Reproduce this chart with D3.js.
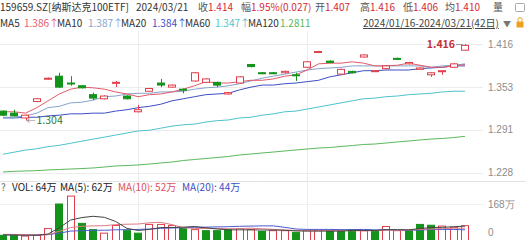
<!DOCTYPE html>
<html>
<head>
<meta charset="utf-8">
<script src="https://cdn.jsdelivr.net/npm/d3@7"></script>
<style>
  body { margin: 0; background: #fff; }
  svg { display: block; font-family: "Noto Sans CJK SC", "Noto Sans", sans-serif; }
</style>
</head>
<body>
<div class="chart"></div>
<script>
// trading days 2024/01/16 - 2024/03/21
var dates = ["01/16","01/17","01/18","01/19","01/22","01/23","01/24","01/25","01/26","01/29","01/30","01/31",
  "02/01","02/02","02/05","02/06","02/07","02/08","02/19","02/20","02/21","02/22","02/23","02/26","02/27","02/28","02/29",
  "03/01","03/04","03/05","03/06","03/07","03/08","03/11","03/12","03/13","03/14","03/15","03/18","03/19","03/20","03/21"];
var monthStarts = ["02/01", "03/01"];

var opens  = [1.318,1.315,1.308,1.332,1.365,1.369,1.359,1.355,1.342,1.336,1.359,1.340,1.317,1.347,1.359,1.353,1.350,1.362,1.360,1.360,1.343,
  1.359,1.386,1.374,1.374,1.374,1.371,1.382,1.404,1.391,1.372,1.376,1.397,1.376,1.380,1.395,1.387,1.379,1.371,1.376,1.382,1.407];
var closes = [1.312,1.311,1.312,1.336,1.366,1.353,1.358,1.352,1.337,1.340,1.360,1.336,1.320,1.351,1.356,1.356,1.349,1.374,1.365,1.356,1.345,
  1.368,1.383,1.373,1.373,1.376,1.370,1.390,1.405,1.389,1.379,1.374,1.400,1.377,1.384,1.394,1.389,1.381,1.374,1.377,1.387,1.414];
var highs  = [1.319,1.320,1.313,1.337,1.367,1.374,1.369,1.356,1.345,1.341,1.362,1.341,1.327,1.352,1.365,1.357,1.351,1.375,1.366,1.361,1.346,
  1.369,1.387,1.375,1.375,1.377,1.374,1.391,1.406,1.392,1.380,1.377,1.401,1.378,1.385,1.396,1.390,1.382,1.375,1.377,1.388,1.416];
var lows   = [1.311,1.310,1.304,1.331,1.364,1.352,1.355,1.351,1.334,1.335,1.353,1.335,1.316,1.346,1.353,1.352,1.344,1.361,1.359,1.353,1.342,
  1.358,1.382,1.372,1.372,1.373,1.362,1.381,1.403,1.388,1.371,1.373,1.396,1.375,1.379,1.393,1.386,1.378,1.368,1.371,1.381,1.406];
var prevClose = 1.316;

var ma5   = [1.317,1.317,1.315,1.323,1.333,1.343,1.350,1.353,1.352,1.350,1.346,1.343,1.339,1.342,1.343,1.346,1.350,1.355,1.361,1.359,1.359,
  1.361,1.363,1.363,1.365,1.369,1.371,1.378,1.387,1.388,1.388,1.390,1.388,1.384,1.384,1.385,1.388,1.385,1.382,1.382,1.384,1.386];
var ma10  = [1.309,1.309,1.311,1.315,1.323,1.325,1.330,1.331,1.334,1.339,1.340,1.343,1.344,1.344,1.346,1.346,1.347,1.350,1.352,1.353,1.355,
  1.358,1.362,1.366,1.369,1.372,1.375,1.378,1.380,1.381,1.382,1.384,1.384,1.384,1.384,1.384,1.384,1.384,1.382,1.384,1.385,1.387];
var ma20  = [1.308,1.308,1.309,1.309,1.311,1.312,1.314,1.314,1.315,1.315,1.318,1.320,1.323,1.325,1.328,1.333,1.336,1.339,1.342,1.343,1.344,
  1.349,1.353,1.356,1.356,1.358,1.359,1.361,1.363,1.368,1.371,1.374,1.377,1.377,1.378,1.378,1.378,1.380,1.381,1.382,1.384,1.384];
var ma60  = [1.255,1.258,1.261,1.263,1.266,1.268,1.271,1.274,1.277,1.280,1.283,1.286,1.289,1.290,1.293,1.296,1.298,1.299,1.302,1.304,1.305,
  1.308,1.309,1.312,1.314,1.317,1.318,1.321,1.324,1.327,1.330,1.333,1.336,1.337,1.339,1.340,1.342,1.343,1.344,1.346,1.347,1.347];
var ma120 = [1.229,1.230,1.2305,1.231,1.232,1.2327,1.2334,1.2341,1.2349,1.2363,1.2378,1.2385,1.2393,1.2407,1.2422,1.2436,1.2458,1.2473,1.2487,1.2502,1.2517,
  1.2539,1.2553,1.2568,1.2582,1.2597,1.2612,1.2626,1.2641,1.2648,1.2663,1.2677,1.2692,1.2699,1.2714,1.2729,1.2743,1.2758,1.2772,1.278,1.2794,1.2811];

// volume in 万
var volumes = [18,18,14,18,50,168,206,75,45,28,65,40,28,70,70,65,50,45,40,40,45,50,45,36,40,40,32,40,40,40,40,45,40,40,60,40,40,70,66,62,56,64];
var volMa5  = [20,19,18,18,24,54,91,103,109,104,84,51,41,46,55,55,57,60,54,48,44,44,44,43,43,42,39,38,38,38,38,41,41,41,45,45,44,50,55,56,59,62];
var volMa10 = [22,22,21,20,21,37,55,61,63,64,69,71,72,78,80,69,54,51,50,51,49,50,52,49,46,43,41,41,41,41,40,40,39,40,42,42,43,46,48,50,52,52];
var volMa20 = [20,20,20,19,21,28,38,40,42,42,44,45,46,48,51,53,54,56,57,58,59,61,62,63,63,56,48,46,46,46,45,45,46,44,44,42,42,43,45,46,46,44];

var priceTicks = [1.416, 1.353, 1.291, 1.228];
var volTicks = [168, 0];

var maNames  = ["MA5", "MA10", "MA20", "MA60", "MA120"];
var maValues = ["1.386↑", "1.387↑", "1.384↑", "1.347↑", "1.2811"];
var volHeader = ["VOL: 64万", "MA(5): 62万", "MA(10): 52万", "MA(20): 44万"];
var quoteLabels = ["收", "幅", "开", "高", "低", "均"];
var quoteValues = ["1.414", "1.95%(0.027)", "1.407", "1.416", "1.406", "1.410"];

var red = "#e0404c", green = "#14931a", textRed = "#d42a38";
var maColors = ["#e2596a", "#86a3c9", "#3c4fc4", "#4ec3cc", "#5cb85c"];

var svg = d3.select(".chart").append("svg").attr("width", 526).attr("height", 240);

var x = d3.scalePoint().domain(dates).range([3, 465]);
var bw = x.step() * 0.72;
var y = d3.scaleLinear().domain([1.228, 1.416]).range([172.7, 44]);
var yv = d3.scaleLinear().domain([0, 168]).range([239, 204]);

// grid
svg.append("g").selectAll("line").data(priceTicks).enter().append("line")
  .attr("x1", 0).attr("x2", 483).attr("y1", d => Math.round(y(d)) + 0.5).attr("y2", d => Math.round(y(d)) + 0.5)
  .attr("stroke", "#ececec");
svg.append("line").attr("x1", 0).attr("x2", 526).attr("y1", 181.5).attr("y2", 181.5).attr("stroke", "#e2e2e2");
svg.append("line").attr("x1", 0).attr("x2", 483).attr("y1", Math.round(yv(168)) + 0.5).attr("y2", Math.round(yv(168)) + 0.5)
  .attr("stroke", "#f0f0f0");
svg.append("g").selectAll("line").data(monthStarts).enter().append("line")
  .attr("x1", d => Math.round(x(d)) + 0.5).attr("x2", d => Math.round(x(d)) + 0.5)
  .attr("y1", 31).attr("y2", 240).attr("stroke", "#ececec");

// right axes
var priceAxis = d3.axisRight(y).tickValues(priceTicks).tickSize(0).tickFormat(d3.format(".3f"));
var pa = svg.append("g").attr("transform", "translate(487,0)").call(priceAxis);
var volAxis = d3.axisRight(yv).tickValues(volTicks).tickSize(0).tickFormat(d => d === 0 ? "0" : d + "万");
var va = svg.append("g").attr("transform", "translate(487,0)").call(volAxis);
[pa, va].forEach(function(g) {
  g.select(".domain").remove();
  g.selectAll("text").attr("x", 1).attr("fill", "#8c8c8c").style("font-size", "10px").style("font-family", "inherit");
});
va.selectAll(".tick").filter(d => d === 0).select("text").attr("dy", "-0.35em");

// MA lines
var maSeries = [ma120, ma60, ma20, ma10, ma5];
var maSeriesColors = [maColors[4], maColors[3], maColors[2], maColors[1], maColors[0]];
maSeries.forEach(function(s, k) {
  svg.append("path").datum(s)
    .attr("d", d3.line().x((d, i) => x(dates[i])).y(d => y(d)))
    .attr("fill", "none").attr("stroke", maSeriesColors[k]).attr("stroke-width", 1);
});

// candles
var idx = d3.range(dates.length);
var isUp = i => closes[i] >= opens[i];
var candle = svg.append("g").selectAll("g").data(idx).enter().append("g");
candle.append("line")
  .attr("x1", i => Math.round(x(dates[i])) + 0.5).attr("x2", i => Math.round(x(dates[i])) + 0.5)
  .attr("y1", i => y(highs[i])).attr("y2", i => y(lows[i]))
  .attr("stroke", i => isUp(i) ? red : green);
candle.append("rect")
  .attr("x", i => Math.round(x(dates[i]) - bw / 2) + 0.5)
  .attr("width", Math.round(bw) - 1)
  .attr("y", i => y(Math.max(opens[i], closes[i])))
  .attr("height", i => Math.max(1, Math.abs(y(opens[i]) - y(closes[i]))))
  .attr("fill", i => isUp(i) ? "#fff" : green)
  .attr("stroke", i => isUp(i) ? red : green);

// max / min marks
var last = dates.length - 1;
svg.append("line").attr("x1", x(dates[last]) - 9).attr("x2", x(dates[last]) - 2)
  .attr("y1", y(highs[last]) + 0.5).attr("y2", y(highs[last]) + 0.5).attr("stroke", "#999");
svg.append("text").attr("x", x(dates[last]) - 10).attr("y", y(highs[last])).attr("dy", "0.35em")
  .attr("text-anchor", "end").attr("fill", "#c8303a").style("font-size", "10.5px").style("font-weight", "bold")
  .text(d3.format(".3f")(highs[last]));
var minI = d3.minIndex(lows);
svg.append("text").attr("x", x(dates[minI]) + 1).attr("y", y(lows[minI])).attr("dy", "0.35em")
  .attr("fill", "#888").style("font-size", "9px").text("←");
svg.append("text").attr("x", x(dates[minI]) + 11).attr("y", y(lows[minI])).attr("dy", "0.35em")
  .attr("fill", "#2f7a36").style("font-size", "10.5px").text(d3.format(".3f")(lows[minI]));

// volume bars
var volUp = i => closes[i] >= (i === 0 ? prevClose : closes[i - 1]);
svg.append("g").selectAll("rect").data(idx).enter().append("rect")
  .attr("x", i => Math.round(x(dates[i]) - bw / 2) + 0.5)
  .attr("width", Math.round(bw) - 1)
  .attr("y", i => yv(volumes[i]))
  .attr("height", i => yv(0) - yv(volumes[i]) + 2)
  .attr("fill", i => volUp(i) ? "#fff" : green)
  .attr("stroke", i => volUp(i) ? red : green);

[[volMa20, "#4a5ad0"], [volMa10, "#e07a86"], [volMa5, "#444"]].forEach(function(p) {
  svg.append("path").datum(p[0])
    .attr("d", d3.line().x((d, i) => x(dates[i])).y(d => yv(d)))
    .attr("fill", "none").attr("stroke", p[1]).attr("stroke-width", 1);
});

// header line 1
var h1 = svg.append("g").style("font-size", "10px");
h1.append("text").attr("x", 0).attr("y", 11).attr("fill", "#333").text("159659.SZ[纳斯达克100ETF]");
h1.append("text").attr("x", 136).attr("y", 11).attr("fill", "#333").text("2024/03/21");
var qx = [198, 241, 315, 360, 403, 445];
quoteLabels.forEach(function(l, k) {
  h1.append("text").attr("x", qx[k]).attr("y", 11).attr("fill", "#555").text(l);
  h1.append("text").attr("x", qx[k] + 10).attr("y", 11).attr("fill", textRed).text(quoteValues[k]);
});
h1.append("text").attr("x", 493).attr("y", 11).attr("fill", "#555").text("量");
svg.append("rect").attr("x", 515.5).attr("y", 3.5).attr("width", 9).attr("height", 8).attr("rx", 1)
  .attr("fill", "none").attr("stroke", "#aaa");

// header line 2 (MA legend)
var h2 = svg.append("g").style("font-size", "10px");
var mx = [0, 57, 121, 185, 248];
var mvx = [24, 88, 152, 215, 280];
maNames.forEach(function(n, k) {
  h2.append("text").attr("x", mx[k]).attr("y", 27).attr("fill", "#333").text(n);
  h2.append("text").attr("x", mvx[k]).attr("y", 27).attr("fill", maColors[k]).text(maValues[k]);
});
h2.append("text").attr("x", 363).attr("y", 27).attr("fill", "#444").attr("text-decoration", "underline")
  .text("2024/01/16-2024/03/21(42日)");
h2.append("text").attr("x", 503).attr("y", 27).attr("fill", "#777").style("font-size", "8px").text("▼");
svg.append("rect").attr("x", 516.5).attr("y", 21.5).attr("width", 7).attr("height", 6).attr("fill", "#f0a020");
svg.append("path").attr("d", "M518,21.5 v-2 a2,2 0 0 1 4,0 v2").attr("fill", "none").attr("stroke", "#f0a020");

// volume header
var h3 = svg.append("g").style("font-size", "10px");
h3.append("text").attr("x", 1).attr("y", 191).attr("fill", "#666").text("?");
var vhx = [12, 60, 118, 182];
var vhc = ["#222", "#222", "#e0505c", "#3c4fc4"];
volHeader.forEach(function(t, k) {
  h3.append("text").attr("x", vhx[k]).attr("y", 191).attr("fill", vhc[k]).text(t);
});
</script>
</body>
</html>
